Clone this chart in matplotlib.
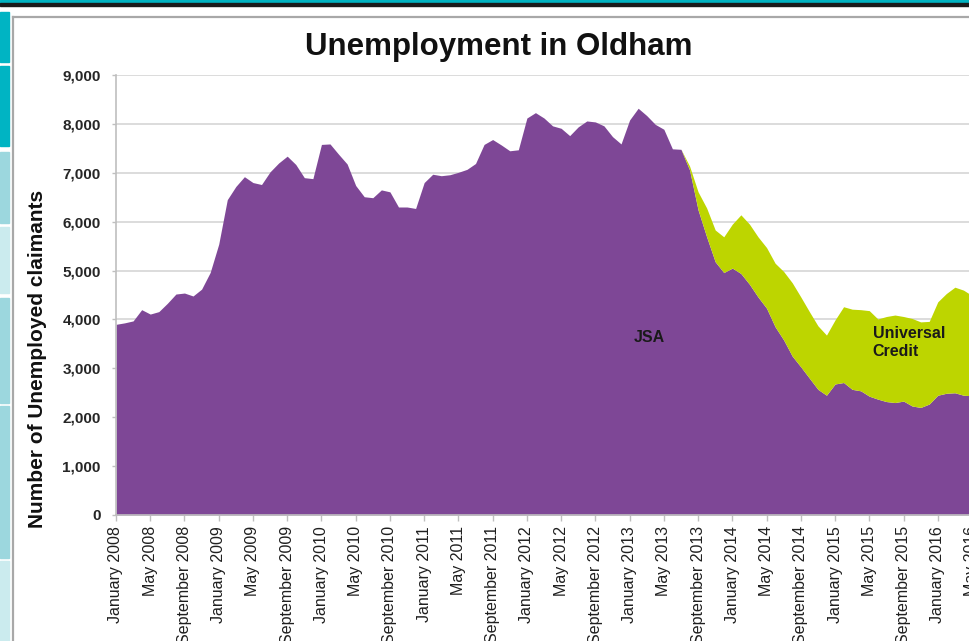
import matplotlib
matplotlib.use("Agg")
import matplotlib.pyplot as plt
from matplotlib.patches import Rectangle
from matplotlib.lines import Line2D

# ---------------- data ----------------
months = list(range(101))  # Jan 2008 .. May 2016 (monthly)

jsa = [3900, 3930, 3970, 4200, 4110, 4160, 4330, 4520, 4540, 4480,
       4620, 4960, 5540, 6450, 6720, 6920, 6800, 6760, 7020, 7200,
       7340, 7170, 6900, 6880, 7580, 7590, 7380, 7180, 6740, 6510,
       6490, 6650, 6610, 6300, 6300, 6270, 6800, 6970, 6940, 6960,
       7010, 7070, 7190, 7580, 7680, 7570, 7450, 7470, 8120, 8230,
       8120, 7960, 7910, 7760, 7940, 8060, 8040, 7960, 7740, 7590,
       8080, 8320, 8170, 7990, 7890, 7490, 7480, 7060, 6240, 5690,
       5180, 4960, 5050, 4940, 4720, 4460, 4230, 3850, 3580, 3250,
       3030, 2800, 2570, 2450, 2680, 2710, 2570, 2540, 2430, 2370,
       2320, 2300, 2330, 2230, 2200, 2270, 2450, 2490, 2500, 2450,
       2440]

universal_credit = [0] * 67 + [
    80, 370, 590, 650, 730, 900, 1200, 1230, 1230, 1240,
    1300, 1400, 1500, 1430, 1360, 1300, 1230, 1310, 1550, 1640,
    1660, 1750, 1640, 1740, 1790, 1730, 1790, 1750, 1690, 1910,
    2040, 2160, 2150, 2050]

tick_months = list(range(0, 101, 4))
tick_labels = [
    "January 2008", "May 2008", "September 2008",
    "January 2009", "May 2009", "September 2009",
    "January 2010", "May 2010", "September 2010",
    "January 2011", "May 2011", "September 2011",
    "January 2012", "May 2012", "September 2012",
    "January 2013", "May 2013", "September 2013",
    "January 2014", "May 2014", "September 2014",
    "January 2015", "May 2015", "September 2015",
    "January 2016", "May 2016"]

y_ticks = [0, 1000, 2000, 3000, 4000, 5000, 6000, 7000, 8000, 9000]
y_tick_labels = ["0", "1,000", "2,000", "3,000", "4,000", "5,000",
                 "6,000", "7,000", "8,000", "9,000"]

PURPLE = "#7E4796"
GREEN = "#BDD500"

# ---------------- figure ----------------
W, H = 970, 641
fig = plt.figure(figsize=(W / 100, H / 100), dpi=100)
plt.rcParams['font.family'] = ['Liberation Sans', 'DejaVu Sans']

def fx(px):
    return px / W

def fy(py):
    return 1 - py / H

# page decorations
fig.patches.append(Rectangle((0, fy(3.5)), 1, 3.5 / H, transform=fig.transFigure,
                             color="#00B2C0", zorder=0))
fig.patches.append(Rectangle((0, fy(5.5)), 1, 2 / H, transform=fig.transFigure,
                             color="#1A1A1A", zorder=0))
boxes = [(12, 62, "#00B4C3"), (66, 146, "#00B4C3"), (152, 223, "#9CD7DE"),
         (227, 293, "#CBEBEE"), (298, 403, "#9CD7DE"), (406, 558, "#9CD7DE"),
         (561, 641, "#CBEBEE")]
for y0, y1, c in boxes:
    fig.patches.append(Rectangle((0, fy(y1)), fx(9), (y1 - y0) / H,
                                 transform=fig.transFigure, color=c, zorder=0))
# chart border
fig.add_artist(Line2D([fx(13), fx(13)], [0, fy(17)], transform=fig.transFigure,
                      color="#A8A8A8", lw=1.6))
fig.add_artist(Line2D([fx(13), 1], [fy(17), fy(17)], transform=fig.transFigure,
                      color="#A8A8A8", lw=1.6))

# axes (extends past the right edge, like the cropped screenshot)
px_per_month = 8.56
left_px, top_px, bottom_px = 116, 75, 515
xmax = 101
ax = fig.add_axes([fx(left_px), fy(bottom_px), xmax * px_per_month / W,
                   (bottom_px - top_px) / H])

ax.fill_between(months, 0, jsa, color=PURPLE, lw=0, zorder=2)
total = [a + b for a, b in zip(jsa, universal_credit)]
ax.fill_between(months, jsa, total, color=GREEN, lw=0, zorder=2)

ax.set_xlim(0, xmax)
ax.set_ylim(0, 9000)
ax.set_yticks(y_ticks)
ax.set_yticklabels(y_tick_labels, fontsize=11, fontweight="bold", color="#262626")
ax.set_xticks(tick_months)
ax.set_xticklabels(tick_labels, rotation=90, fontsize=11.5, color="#1F1F1F")
ax.tick_params(axis="x", length=4, width=1, color="#BFBFBF", pad=4)
ax.tick_params(axis="y", length=3, width=1, color="#BFBFBF", pad=8)

ax.grid(axis="y", color="#D6D6D6", lw=1.2, zorder=1)
ax.set_axisbelow(True)
for s in ("top", "right"):
    ax.spines[s].set_visible(False)
for s in ("left", "bottom"):
    ax.spines[s].set_color("#BFBFBF")
    ax.spines[s].set_linewidth(1.2)
    ax.spines[s].set_zorder(3)

ax.text(62.3, 3640, "JSA", fontsize=11.5, fontweight="bold", color="#1A1A1A",
        ha="center", va="center", zorder=4)
ax.text(88.4, 3530, "Universal\nCredit", fontsize=11.5, fontweight="bold",
        color="#1A1A1A", ha="left", va="center", linespacing=1.3, zorder=4)

fig.text(fx(499), fy(47), "Unemployment in Oldham", fontsize=22.5,
         fontweight="bold", color="#111111", ha="center", va="center")
fig.text(fx(38), fy(359), "Number of Unemployed claimants", fontsize=15,
         fontweight="bold", color="#111111", ha="center", va="center",
         rotation=90)

fig.savefig("out.png", dpi=100)
